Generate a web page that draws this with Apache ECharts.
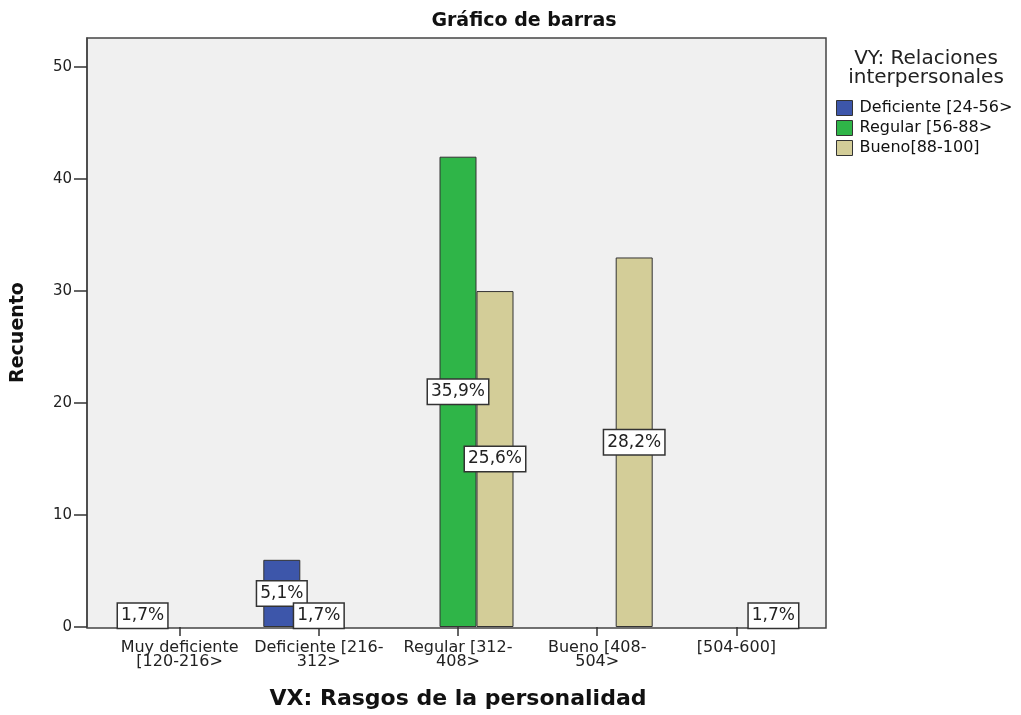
<!DOCTYPE html>
<html>
<head>
<meta charset="utf-8">
<title>Gráfico de barras</title>
<script src="https://cdn.jsdelivr.net/npm/echarts@6/dist/echarts.min.js"></script>
<style>
	html, body { margin: 0; padding: 0; background: #fff; }
	#chart { width: 1021px; height: 715px; }
</style>
</head>
<body>
<div id="chart"></div>
<script>
// categorías del eje X (VX: Rasgos de la personalidad)
const categories = [
	"Muy deficiente\n[120-216>",
	"Deficiente [216-\n312>",
	"Regular [312-\n408>",
	"Bueno [408-\n504>",
	"[504-600]",
];
// series (VY: Relaciones interpersonales), recuentos
const seriesNames = ["Deficiente [24-56>", "Regular [56-88>", "Bueno[88-100]"];
const deficienteData = [2, 6, null, null, null];
const regularData = [null, 2, 42, null, null];
const buenoData = [null, null, 30, 33, 2];
const yTicks = [0, 10, 20, 30, 40, 50];

const colors = ["#3d56aa", "#2fb548", "#d3cd98"];
const font = "DejaVu Sans, Verdana, sans-serif";

// total para calcular los porcentajes de las etiquetas
let total = 0;
[deficienteData, regularData, buenoData].forEach((arr) => {
	arr.forEach((v) => {
		total += v || 0;
	});
});

const chartInstance = echarts.init(document.getElementById("chart"));

const makeSeries = (name, data, color) => {
	return {
		name: name,
		type: "bar",
		data: data,
		barWidth: 37,
		barGap: "0%",
		itemStyle: {
			color: color,
			borderColor: "#333",
			borderWidth: 1,
		},
		label: {
			show: true,
			position: "inside",
			formatter: (arg) => ((arg.value / total) * 100).toFixed(1).replace(".", ",") + "%",
			color: "#222",
			fontFamily: font,
			fontSize: 17,
			lineHeight: 19,
			backgroundColor: "#fff",
			borderColor: "#333",
			borderWidth: 1.5,
			padding: [3, 3, 2, 3],
		},
		emphasis: { disabled: true },
	};
};

const option = {
	animation: false,
	title: [
		{
			text: "Gráfico de barras",
			left: 519,
			top: 7,
			textAlign: "center",
			textStyle: { fontFamily: font, fontSize: 19, fontWeight: "bold", color: "#111" },
		},
		{
			text: "VY: Relaciones\ninterpersonales",
			left: 926,
			top: 49,
			padding: 0,
			textAlign: "center",
			textStyle: { fontFamily: font, fontSize: 20, fontWeight: "normal", color: "#222", lineHeight: 19 },
		},
	],
	legend: {
		orient: "vertical",
		left: 836,
		top: 100,
		padding: 0,
		icon: "rect",
		itemWidth: 16,
		itemHeight: 15,
		itemGap: 4,
		data: seriesNames,
		itemStyle: { borderColor: "#333", borderWidth: 1 },
		textStyle: { fontFamily: font, fontSize: 16, color: "#111", padding: [0, 0, 0, 2] },
	},
	// marco y fondo gris del área de gráfico
	graphic: [
		{
			type: "rect",
			z: -10,
			shape: { x: 87, y: 38, width: 739, height: 590 },
			style: { fill: "#f0f0f0", stroke: "#444", lineWidth: 1.5 },
			silent: true,
		},
	],
	grid: {
		left: 110,
		right: 215,
		top: 38,
		bottom: 87,
		containLabel: false,
	},
	xAxis: {
		type: "category",
		data: categories,
		name: "VX: Rasgos de la personalidad",
		nameLocation: "middle",
		nameGap: 61,
		nameTextStyle: { fontFamily: font, fontSize: 22, fontWeight: "bold", color: "#111" },
		axisLine: { show: false },
		axisTick: { show: true, alignWithLabel: true, length: 9, lineStyle: { color: "#333", width: 1.5 } },
		axisLabel: {
			interval: 0,
			margin: 14,
			fontFamily: font,
			fontSize: 16,
			lineHeight: 14,
			color: "#222",
		},
	},
	yAxis: {
		type: "value",
		min: 0,
		max: 52.6,
		interval: 10,
		offset: 23,
		name: "Recuento",
		nameLocation: "middle",
		nameGap: 59,
		nameTextStyle: { fontFamily: font, fontSize: 19, fontWeight: "bold", color: "#111" },
		axisLine: { show: true, lineStyle: { color: "#444", width: 1.5 } },
		axisTick: { show: true, length: 13, lineStyle: { color: "#333", width: 1.5 } },
		splitLine: { show: false },
		axisLabel: {
			showMaxLabel: false,
			margin: 15,
			fontFamily: font,
			fontSize: 15,
			color: "#222",
			formatter: (v) => (yTicks.indexOf(v) >= 0 ? String(v) : ""),
		},
	},
	series: [
		makeSeries(seriesNames[0], deficienteData, colors[0]),
		makeSeries(seriesNames[1], regularData, colors[1]),
		makeSeries(seriesNames[2], buenoData, colors[2]),
	],
};

chartInstance.setOption(option);
</script>
</body>
</html>
